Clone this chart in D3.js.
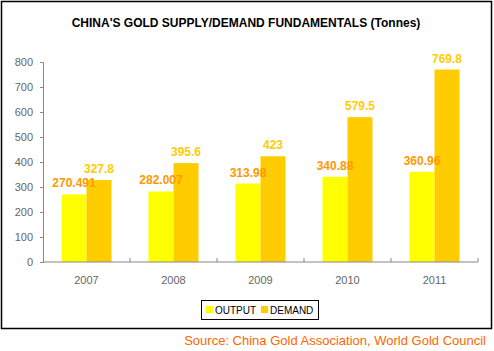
<!DOCTYPE html>
<html>
<head>
<meta charset="utf-8">
<script src="https://cdn.jsdelivr.net/npm/d3@7"></script>
<style>
  body { margin: 0; background: #fff; }
  svg { font-family: Arial, "Liberation Sans", sans-serif; }
</style>
</head>
<body>
<div id="app"></div>
<script>
// chart data
const years = ["2007", "2008", "2009", "2010", "2011"];
const output = [270.491, 282.007, 313.98, 340.88, 360.96];
const demand = [327.8, 395.6, 423, 579.5, 769.8];
const seriesNames = ["OUTPUT", "DEMAND"];
const yTicks = [0, 100, 200, 300, 400, 500, 600, 700, 800];

const colors = { OUTPUT: "#ffff00", DEMAND: "#ffcc00" };
const labelColors = { OUTPUT: "#ff9900", DEMAND: "#ffcc00" };

const W = 494, H = 351;
const margin = { left: 43, top: 62, right: 16, bottom: 89 };
const width = W - margin.left - margin.right;
const height = H - margin.top - margin.bottom;

const svg = d3.select("#app").append("svg")
    .attr("width", W)
    .attr("height", H);

// outer frame
svg.append("rect")
    .attr("x", 1.5).attr("y", 1.5)
    .attr("width", 490).attr("height", 327)
    .attr("fill", "#fff")
    .attr("stroke", "#000")
    .attr("stroke-width", 1.5);

svg.append("text")
    .attr("x", 246)
    .attr("y", 27)
    .attr("text-anchor", "middle")
    .attr("font-size", 12)
    .attr("font-weight", "bold")
    .text("CHINA'S GOLD SUPPLY/DEMAND FUNDAMENTALS (Tonnes)");

const g = svg.append("g")
    .attr("transform", `translate(${margin.left},${margin.top})`);

const x = d3.scaleBand()
    .domain(years)
    .range([0, width]);

const x1 = d3.scaleBand()
    .domain(seriesNames)
    .range([0, 50]);

const y = d3.scaleLinear()
    .domain([0, 800])
    .range([height, 0]);

// Y axis
const yAxis = g.append("g")
    .call(d3.axisLeft(y).tickValues(yTicks).tickSize(3).tickPadding(7));
yAxis.select(".domain").attr("stroke", "#888");
yAxis.selectAll(".tick line").attr("stroke", "#888");
yAxis.selectAll("text").attr("fill", "#666").attr("font-size", 11).attr("font-family", "Arial, sans-serif");

// bars
const rows = years.map((yr, i) => ({ year: yr, values: [
    { name: "OUTPUT", value: output[i] },
    { name: "DEMAND", value: demand[i] }
] }));

const groups = g.selectAll(".grp")
    .data(rows)
    .join("g")
        .attr("transform", d => `translate(${x(d.year) + (x.bandwidth() - 50) / 2},0)`);

groups.selectAll("rect")
    .data(d => d.values)
    .join("rect")
        .attr("x", d => x1(d.name))
        .attr("y", d => y(d.value))
        .attr("width", x1.bandwidth())
        .attr("height", d => height - y(d.value))
        .attr("fill", d => colors[d.name]);

groups.selectAll("text")
    .data(d => d.values)
    .join("text")
        .attr("x", d => x1(d.name) + x1.bandwidth() / 2)
        .attr("y", d => y(d.value) - 7)
        .attr("text-anchor", "middle")
        .attr("font-size", 12)
        .attr("font-weight", "bold")
        .attr("fill", d => labelColors[d.name])
        .text(d => d.value);

// X axis
const xAxis = g.append("g")
    .attr("transform", `translate(0,${height})`);
xAxis.append("line")
    .attr("x1", 0).attr("x2", width)
    .attr("stroke", "#888");
xAxis.selectAll(".sep")
    .data(years)
    .join("line")
        .attr("x1", d => x(d) + x.bandwidth())
        .attr("x2", d => x(d) + x.bandwidth())
        .attr("y1", 0).attr("y2", -4)
        .attr("stroke", "#888");
xAxis.selectAll(".lbl")
    .data(years)
    .join("text")
        .attr("x", d => x(d) + x.bandwidth() / 2)
        .attr("y", 22)
        .attr("text-anchor", "middle")
        .attr("font-size", 11)
        .attr("fill", "#666")
        .text(d => d);

// legend
const legend = svg.append("g").attr("transform", "translate(201,300)");
legend.append("rect")
    .attr("x", 0.5).attr("y", 0.5)
    .attr("width", 117).attr("height", 19)
    .attr("fill", "#fff")
    .attr("stroke", "#000");
const legX = [5, 60];
seriesNames.forEach((s, i) => {
    legend.append("rect")
        .attr("x", legX[i]).attr("y", 6)
        .attr("width", 7).attr("height", 7)
        .attr("fill", colors[s]);
    legend.append("text")
        .attr("x", legX[i] + 9).attr("y", 14)
        .attr("font-size", 10)
        .attr("fill", "#000")
        .text(s);
});

svg.append("text")
    .attr("x", 486)
    .attr("y", 345)
    .attr("text-anchor", "end")
    .attr("font-size", 13)
    .attr("fill", "#ff6600")
    .text("Source: China Gold Association, World Gold Council");
</script>
</body>
</html>
